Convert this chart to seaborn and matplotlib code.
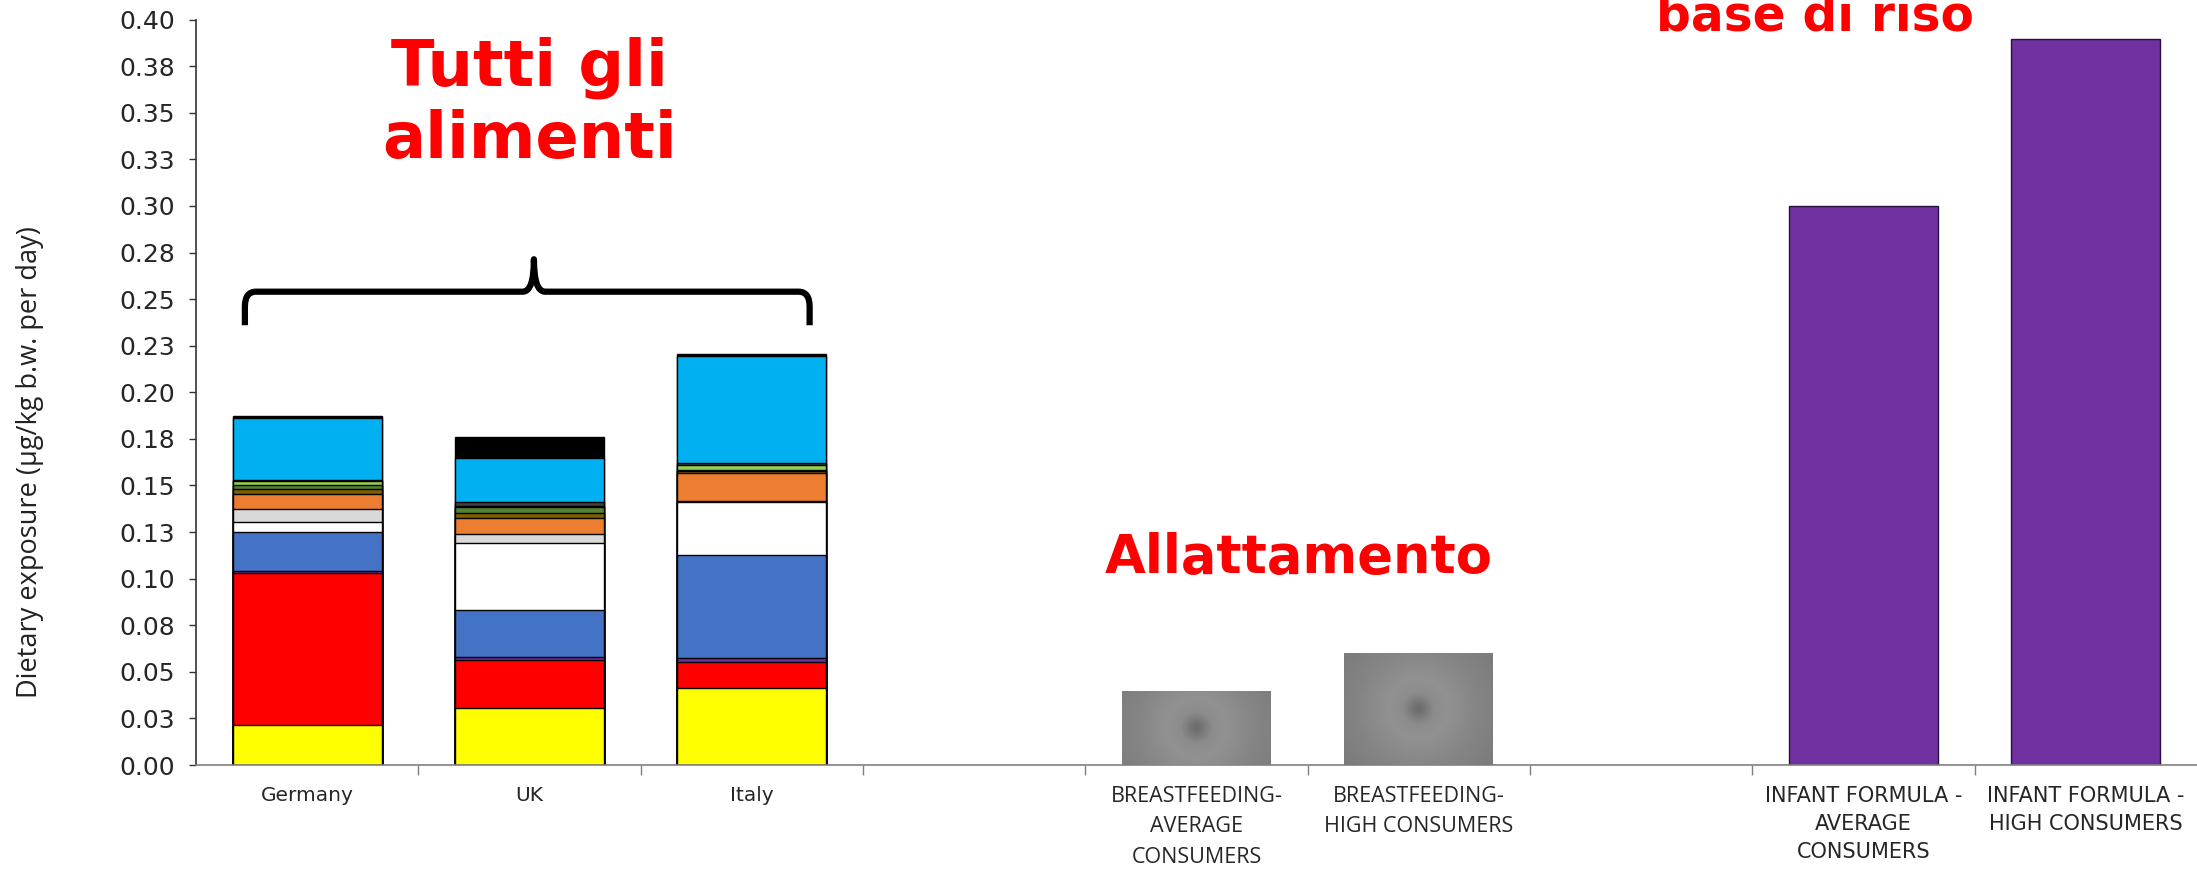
import numpy as np
import pandas as pd
import matplotlib.pyplot as plt
import seaborn as sns
from matplotlib.path import Path
from matplotlib.patches import PathPatch

# categories on the x axis (two blank spacer slots)
categories = ['Germany', 'UK', 'Italy', '',
              'BREASTFEEDING-\nAVERAGE\nCONSUMERS', 'BREASTFEEDING-\nHIGH CONSUMERS', ' ',
              'INFANT FORMULA -\nAVERAGE\nCONSUMERS', 'INFANT FORMULA -\nHIGH CONSUMERS']
countries = ['Germany', 'UK', 'Italy']

# food-group contributions per country, bottom to top
layer_colors = ['#FFFF00', '#FF0000', '#7030A0', '#4472C4', '#FFFFFF', '#D9D9D9',
                '#ED7D31', '#7F6000', '#548235', '#92D050', '#404040', '#00B0F0', '#000000']
germany = [0.0215, 0.0814, 0.0013, 0.0209, 0.0055, 0.0066, 0.0084, 0.0023, 0.0021, 0.0025, 0.0007, 0.0329, 0.0011]
uk = [0.0308, 0.0254, 0.0020, 0.0250, 0.0361, 0.0045, 0.0089, 0.0027, 0.0030, 0.0008, 0.0018, 0.0238, 0.0113]
italy = [0.0415, 0.0140, 0.0018, 0.0553, 0.0286, 0.0004, 0.0150, 0.0011, 0.0005, 0.0027, 0.0013, 0.0571, 0.0010]

breastfeeding_cats = [categories[4], categories[5]]
breastfeeding = [0.0398, 0.0602]
formula_cats = [categories[7], categories[8]]
formula = [0.300, 0.3895]

ytick_values = [0.0, 0.025, 0.05, 0.075, 0.1, 0.125, 0.15, 0.175, 0.2,
                0.225, 0.25, 0.275, 0.3, 0.325, 0.35, 0.375, 0.4]
ytick_labels = ['0.00', '0.03', '0.05', '0.08', '0.10', '0.13', '0.15', '0.18', '0.20',
                '0.23', '0.25', '0.28', '0.30', '0.33', '0.35', '0.38', '0.40']

sns.set_theme(style='white')
plt.rcParams['font.family'] = ['DejaVu Sans']
narrow = ['Open Sans', 'DejaVu Sans']

fig = plt.figure(figsize=(21.97, 8.72), dpi=100)
ax = fig.add_axes([0.0892, 0.1227, 0.9108, 0.8548])

BAR_W = 0.67

# stacked bars: draw cumulative totals from top layer down
stack = pd.DataFrame({'Germany': germany, 'UK': uk, 'Italy': italy})
cum = stack.cumsum()
for i in reversed(range(len(layer_colors))):
    sns.barplot(x=countries, y=cum.iloc[i].values, order=categories,
                color=layer_colors[i], saturation=1, width=BAR_W,
                edgecolor='black', linewidth=1.0, errorbar=None, ax=ax)

n_before = len(ax.patches)
sns.barplot(x=breastfeeding_cats, y=breastfeeding, order=categories,
            color='#858585', saturation=1, width=BAR_W, linewidth=0,
            errorbar=None, ax=ax)
bf_patches = [p for p in ax.patches[n_before:] if p.get_height() > 0]

sns.barplot(x=formula_cats, y=formula, order=categories,
            color='#7030A0', saturation=1, width=BAR_W,
            edgecolor='#2a1040', linewidth=1.0, errorbar=None, ax=ax)

ax.set_xlim(-0.5, len(categories) - 0.5)
ax.set_ylim(0, 0.4)

# radial grey gradient on the breastfeeding bars
px_per_x = ax.transData.transform((1, 0))[0] - ax.transData.transform((0, 0))[0]
px_per_y = ax.transData.transform((0, 1))[1] - ax.transData.transform((0, 0))[1]
for p in bf_patches:
    x0, y0 = p.get_x(), p.get_y()
    w, h = p.get_width(), p.get_height()
    wp, hp = w * px_per_x, h * px_per_y
    xx, yy = np.meshgrid(np.linspace(-wp / 2, wp / 2, 200), np.linspace(-hp / 2, hp / 2, 150))
    d = np.hypot(xx, yy)
    g = np.interp(d, [0, 6, 16, 30, 60, 110, 200], [0.42, 0.46, 0.55, 0.57, 0.52, 0.46, 0.44])
    im = ax.imshow(g, extent=[x0, x0 + w, y0, y0 + h], cmap='gray', vmin=0, vmax=1,
                   aspect='auto', origin='lower', zorder=3, interpolation='bilinear')
    im.set_clip_path(p)
ax.set_xlim(-0.5, len(categories) - 0.5)
ax.set_ylim(0, 0.4)

# axes styling
sns.despine(ax=ax, top=True, right=True)
ax.spines['left'].set_color('#333333')
ax.spines['left'].set_linewidth(1.2)
ax.spines['bottom'].set_color('#808080')
ax.spines['bottom'].set_linewidth(1.2)

ax.set_yticks(ytick_values)
ax.set_yticklabels(ytick_labels, fontsize=18)
ax.tick_params(axis='y', direction='out', length=5, width=1, color='#333333', pad=10, left=True)

ax.set_xticks(np.arange(len(categories)))
ax.set_xticks(np.arange(len(categories) - 1) + 0.5, minor=True)
ax.tick_params(axis='x', which='major', length=0, pad=15)
ax.tick_params(axis='x', which='minor', direction='out', length=7, width=1, color='#808080', bottom=True)
ax.set_xticklabels(categories)
for i, lab in enumerate(ax.get_xticklabels()):
    lab.set_verticalalignment('top')
    lab.set_horizontalalignment('center')
    lab.set_multialignment('center')
    if i < 3:
        lab.set_fontsize(14.5)
    elif i in (4, 5):
        lab.set_fontfamily(narrow)
        lab.set_fontsize(15.5)
        lab.set_linespacing(1.6)
    else:
        lab.set_fontsize(15)
        lab.set_linespacing(1.5)

ax.set_xlabel('')
ax.set_ylabel('Dietary exposure (µg/kg b.w. per day)', fontsize=19.5, family=narrow, color='#222222')
ax.yaxis.set_label_coords(-0.076, 0.406)

# curly brace over the country bars
xl, xm, xr = -0.28, 1.02, 2.26
yb, yh, yt = 0.236, 0.254, 0.2714
verts = [(xl, yb), (xl, yh - 0.008), (xl, yh), (xl + 0.05, yh),
         (xm - 0.05, yh), (xm, yh), (xm, yt),
         (xm, yh), (xm + 0.05, yh),
         (xr - 0.05, yh), (xr, yh), (xr, yh - 0.008), (xr, yb)]
codes = [Path.MOVETO, Path.LINETO, Path.CURVE3, Path.CURVE3,
         Path.LINETO, Path.CURVE3, Path.CURVE3,
         Path.CURVE3, Path.CURVE3,
         Path.LINETO, Path.CURVE3, Path.CURVE3, Path.LINETO]
ax.add_patch(PathPatch(Path(verts, codes), fill=False, lw=4.5, color='black',
                       capstyle='butt', joinstyle='round', clip_on=False))

ax.text(1.0, 0.355, 'Tutti gli\nalimenti', color='#FF0000', fontsize=46, fontweight='bold',
        ha='center', va='center', linespacing=1.2)
ax.text(4.46, 0.111, 'Allattamento', color='#FF0000', fontsize=38, fontweight='bold',
        ha='center', va='center')
ax.text(6.78, 0.394, 'base di riso', color='#FF0000', fontsize=35, fontweight='bold',
        ha='center', va='baseline', clip_on=False)

plt.savefig('out.png', dpi=100)
